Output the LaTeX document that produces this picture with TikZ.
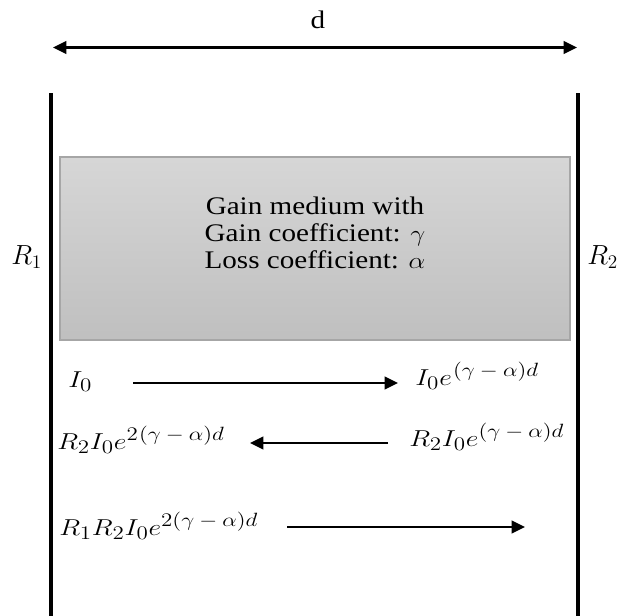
\documentclass[tikz,border=0pt]{standalone}
\usepackage{fontspec}
\usepackage{graphicx}
\setmainfont{Liberation Serif}
\DeclareMathSizes{19}{19}{15.5}{12}
\usetikzlibrary{arrows.meta}
\newcommand{\sx}[1]{\scalebox{1.2}[1]{#1}}
\newcommand{\tx}[1]{\scalebox{1.15}[1]{#1}}
\newcommand{\ga}{(\gamma\mkern4mu-\mkern4mu\alpha)d}
\begin{document}
\begin{tikzpicture}[x=0.75pt,y=-0.75pt,
  mirror/.style={line width=2.5pt},
  tip/.tip={Triangle[length=10pt,width=9.5pt]},
  beam/.style={line width=1.6pt,-tip},
  txt/.style={inner sep=0pt,anchor=base,font=\fontsize{19}{19}\selectfont},
  mlbl/.style={inner sep=0pt,anchor=base west,font=\fontsize{19}{19}\selectfont}]
\useasboundingbox (0,0) rectangle (617,615);
% dimension arrow
\coordinate (dl) at (53,47.5);
\coordinate (dr) at (577,47.5);
\draw[line width=1.6pt,tip-tip] (dl) -- (dr);
\node[txt] (d) at (318,28) {\tx{d}};
% mirrors
\coordinate (m1t) at (51,93); \coordinate (m1b) at (51,616);
\coordinate (m2t) at (578,93); \coordinate (m2b) at (578,616);
\draw[mirror] (m1t) -- (m1b);
\draw[mirror] (m2t) -- (m2b);
\node[mlbl,font=\fontsize{22}{22}\selectfont] (R1) at (11,264) {$R_1$};
\node[mlbl,font=\fontsize{22}{22}\selectfont] (R2) at (587,264) {$R_2$};
% gain medium
\shade[top color=black!16,bottom color=black!25] (60,157) rectangle (570,340);
\draw[black!35,line width=0.8pt] (60,157) rectangle (570,340);
\node[txt] (gm1) at (315,214) {\tx{Gain medium with}};
\node[txt] (gm2) at (315,241) {\tx{Gain coefficient: $\gamma$}};
\node[txt] (gm3) at (315,268) {\tx{Loss coefficient: $\alpha$}};
% row 1
\node[mlbl] (a1) at (68,387) {\sx{$I_0$}};
\node[mlbl] (a2) at (415,385) {\sx{$I_0e^{\mkern1mu\ga}$}};
\coordinate (b1s) at (133,383); \coordinate (b1e) at (398,383);
\draw[beam] (b1s) -- (b1e);
% row 2
\node[mlbl] (c1) at (57,449) {\sx{$R_2I_0e^{2\mkern1mu\ga}$}};
\node[mlbl] (c2) at (409,446) {\sx{$R_2I_0e^{\ga}$}};
\coordinate (b2s) at (388,443); \coordinate (b2e) at (250,443);
\draw[beam] (b2s) -- (b2e);
% row 3
\node[mlbl] (e1) at (59,535) {\sx{$R_1R_2I_0e^{2\ga}$}};
\coordinate (b3s) at (287,527); \coordinate (b3e) at (525,527);
\draw[beam] (b3s) -- (b3e);
\end{tikzpicture}
\end{document}
